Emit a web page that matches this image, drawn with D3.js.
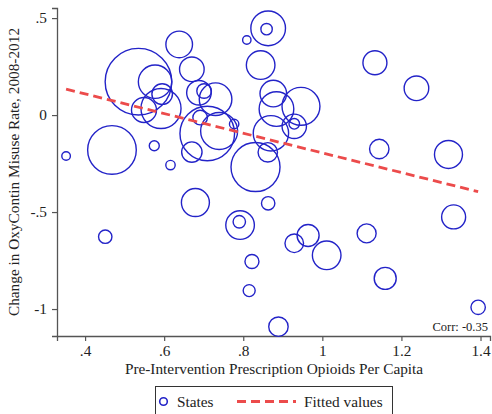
<!DOCTYPE html>
<html>
<head>
<meta charset="utf-8">
<script src="https://cdn.jsdelivr.net/npm/d3@7"></script>
<style>
  body { margin: 0; background: #fff; }
  svg { display: block; }
  text { font-family: "Liberation Serif", "Times New Roman", serif; fill: #222; }
</style>
</head>
<body>
<svg id="chart" width="492" height="414"></svg>
<script>
// pre-intervention opioids per capita (x), change in misuse rate (y), population weight (millions)
const rxPerCapita = [0.352, 0.468, 0.575, 0.616, 0.535, 0.577, 0.595, 0.549, 0.592, 0.638,
                     0.670, 0.688, 0.701, 0.730, 0.691, 0.709, 0.739, 0.670, 0.777, 0.809,
                     0.863, 0.859, 0.844, 0.876, 0.884, 0.946, 0.929, 0.929, 0.870, 0.862,
                     0.831, 1.133, 1.238, 1.144, 1.319, 0.451, 0.679, 0.863, 0.792, 0.790,
                     0.929, 0.964, 1.011, 0.822, 0.815, 0.889, 1.112, 1.159, 1.332, 1.394]
const misuseChange = [-0.211, -0.180, -0.158, -0.258, 0.172, 0.172, 0.108, 0.026, 0.034, 0.364,
                      0.236, 0.115, 0.124, 0.082, -0.013, -0.095, -0.082, -0.191, -0.046, 0.387,
                      0.447, 0.443, 0.258, 0.111, 0.031, 0.045, -0.058, -0.045, -0.094, -0.192,
                      -0.268, 0.270, 0.138, -0.175, -0.203, -0.627, -0.451, -0.455, -0.567, -0.550,
                      -0.661, -0.621, -0.723, -0.755, -0.905, -1.091, -0.610, -0.842, -0.525, -0.991]
const population = [0.62, 19.9, 0.84, 0.74, 37.3, 9.4, 3.57, 5.26, 13.5, 5.95,
                    5.09, 5.09, 1.79, 8.94, 1.79, 25.1, 11.5, 3.5, 0.74, 0.59,
                    10.1, 1.09, 6.88, 5.95, 10.1, 12.1, 5.0, 0.94, 10.5, 3.17,
                    20.2, 4.84, 5.09, 3.17, 6.59, 1.51, 6.59, 1.51, 6.88, 1.29,
                    2.91, 4.07, 6.88, 1.65, 1.21, 3.17, 3.04, 4.07, 4.84, 1.74]

const xTicks = [0.4, 0.6, 0.8, 1, 1.2, 1.4]
const yTicks = [0.5, 0, -0.5, -1]
const fitIntercept = 0.312
const fitSlope = -0.507
const corrLabel = 'Corr: -0.35'

const states = rxPerCapita.map((x, i) => ({x: x, y: misuseChange[i], pop: population[i]}))

const svg = d3.select('#chart')
const plotLeft = 57, plotRight = 490, plotTop = 8, plotBottom = 336
const fontSize = '15.3px'

const x = d3.scaleLinear().domain([0.329, 1.424]).range([plotLeft, plotRight])
const y = d3.scaleLinear().domain([-1.139, 0.552]).range([plotBottom, plotTop])
const r = d3.scaleSqrt().domain([0, 37.3]).range([0, 33.3])

// stata style labels: plain hyphen, no leading zero
const fmt = v => String(+v.toFixed(2)).replace(/^(-?)0\./, '$1.')

const xAxis = svg.append('g').attr('transform', `translate(0, ${plotBottom})`)
  .call(d3.axisBottom(x).tickValues(xTicks).tickFormat(fmt).tickSize(5).tickPadding(4))
const yAxis = svg.append('g').attr('transform', `translate(${plotLeft}, 0)`)
  .call(d3.axisLeft(y).tickValues(yTicks).tickFormat(fmt).tickSize(5).tickPadding(5))

;[xAxis, yAxis].forEach(ax => {
  ax.select('.domain').attr('stroke', '#555').attr('stroke-width', 1.3)
  ax.selectAll('.tick line').attr('stroke', '#555').attr('stroke-width', 1.2)
  ax.selectAll('.tick text').style('font-family', '"Liberation Serif", serif')
    .style('font-size', fontSize).attr('fill', '#222')
})

svg.append('g').selectAll('circle').data(states).enter().append('circle')
  .attr('cx', d => x(d.x))
  .attr('cy', d => y(d.y))
  .attr('r', d => r(d.pop))
  .attr('fill', 'none')
  .attr('stroke', '#2323c8')
  .attr('stroke-width', 1.4)

const xr = d3.extent(rxPerCapita)
svg.append('line')
  .attr('x1', x(xr[0])).attr('y1', y(fitIntercept + fitSlope * xr[0]))
  .attr('x2', x(xr[1])).attr('y2', y(fitIntercept + fitSlope * xr[1]))
  .attr('stroke', '#ec4b4b')
  .attr('stroke-width', 2.8)
  .attr('stroke-dasharray', '9,5')

svg.append('text')
  .attr('x', 488).attr('y', 331)
  .attr('text-anchor', 'end')
  .style('font-size', '12.5px')
  .text(corrLabel)

svg.append('text')
  .attr('x', (plotLeft + plotRight) / 2 + 0.5).attr('y', 374)
  .attr('text-anchor', 'middle')
  .style('font-size', fontSize)
  .text('Pre-Intervention Prescription Opioids Per Capita')

svg.append('text')
  .attr('transform', `translate(19, ${(plotTop + plotBottom) / 2}) rotate(-90)`)
  .attr('text-anchor', 'middle')
  .style('font-size', fontSize)
  .text('Change in OxyContin Misuse Rate, 2008-2012')

// legend
const lg = svg.append('g')
lg.append('rect')
  .attr('x', 155.5).attr('y', 386.5).attr('width', 237).attr('height', 32)
  .attr('fill', 'none').attr('stroke', '#333').attr('stroke-width', 1)
lg.append('circle')
  .attr('cx', 163.5).attr('cy', 401.5).attr('r', 3.8)
  .attr('fill', 'none').attr('stroke', '#2323c8').attr('stroke-width', 1.6)
lg.append('text').attr('x', 177).attr('y', 406.5).style('font-size', fontSize).text('States')
lg.append('line')
  .attr('x1', 237).attr('x2', 296).attr('y1', 401.5).attr('y2', 401.5)
  .attr('stroke', '#ec4b4b').attr('stroke-width', 2.8).attr('stroke-dasharray', '9,5')
lg.append('text').attr('x', 304).attr('y', 406.5).style('font-size', fontSize).text('Fitted values')
</script>
</body>
</html>
